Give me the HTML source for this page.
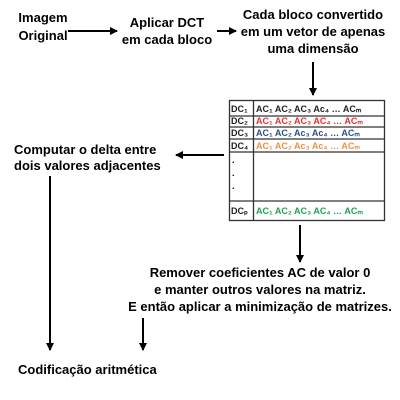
<!DOCTYPE html>
<html><head><meta charset="utf-8"><style>
html,body{margin:0;padding:0;background:#fff;}
svg{display:block;}
text{font-family:"Liberation Sans",Arial,sans-serif;font-weight:bold;font-size:13px;fill:#000;}
.t{font-size:9px;font-weight:bold;}
</style></head><body>
<svg width="400" height="400" xmlns="http://www.w3.org/2000/svg">
<defs><marker id="a" markerWidth="8" markerHeight="8" refX="7" refY="4" orient="auto" markerUnits="userSpaceOnUse"><path d="M0,0 L8,4 L0,8 z" fill="#000"/></marker></defs>
<text x="43" y="22" text-anchor="middle">Imagem</text>
<text x="43" y="40" text-anchor="middle">Original</text>
<text x="167" y="27" text-anchor="middle">Aplicar DCT</text>
<text x="167" y="44" text-anchor="middle">em cada bloco</text>
<text x="313" y="19" text-anchor="middle">Cada bloco convertido</text>
<text x="313" y="36" text-anchor="middle">em um vetor de apenas</text>
<text x="313" y="53" text-anchor="middle">uma dimensão</text>
<g stroke="#000" stroke-width="2" fill="none">
<line x1="68" y1="31" x2="117" y2="31" marker-end="url(#a)"/>
<line x1="217" y1="31" x2="236" y2="31" marker-end="url(#a)"/>
<line x1="313" y1="62" x2="313" y2="95" marker-end="url(#a)"/>
<line x1="224" y1="155" x2="176" y2="155" marker-end="url(#a)"/>
<line x1="50" y1="176" x2="50" y2="350" marker-end="url(#a)"/>
<line x1="300" y1="225" x2="300" y2="262" marker-end="url(#a)"/>
<line x1="143" y1="318" x2="143" y2="350" marker-end="url(#a)"/>
</g>
<g stroke="#333" stroke-width="1.3" fill="none">
<rect x="229.5" y="100.5" width="155" height="120"/>
<line x1="253.5" y1="100" x2="253.5" y2="221"/>
<line x1="229" y1="116" x2="385" y2="116"/>
<line x1="229" y1="127" x2="385" y2="127"/>
<line x1="229" y1="139" x2="385" y2="139"/>
<line x1="229" y1="152" x2="385" y2="152"/>
<line x1="229" y1="201" x2="385" y2="201"/>
</g>
<text class="t" x="231" y="112" style="fill:#222">DC₁</text>
<text class="t" x="256" y="112" style="fill:#222">AC₁ AC₂ AC₃  Ac₄ …   ACₘ</text>
<text class="t" x="231" y="124" style="fill:#222">DC₂</text>
<text class="t" x="256" y="124" style="fill:#e53030">AC₁ AC₂ AC₃ AC₄ …   ACₘ</text>
<text class="t" x="231" y="136" style="fill:#222">DC₃</text>
<text class="t" x="256" y="136" style="fill:#2a4f8a">AC₁ AC₂ Ac₃ Ac₄ …   ACₘ</text>
<text class="t" x="231" y="149" style="fill:#222">DC₄</text>
<text class="t" x="256" y="149" style="fill:#f09040">AC₁ AC₂ Ac₃ Ac₄ …   ACₘ</text>
<text class="t" x="232" y="163">.</text>
<text class="t" x="232" y="176">.</text>
<text class="t" x="232" y="189">.</text>
<text class="t" x="231" y="214" style="fill:#222">DCₚ</text>
<text class="t" x="256" y="214" style="fill:#20a050">AC₁ AC₂ AC₃ AC₄ …   ACₘ</text>
<text x="14" y="154">Computar o delta entre</text>
<text x="14" y="170">dois valores adjacentes</text>
<text x="260" y="277" text-anchor="middle">Remover coeficientes AC de valor 0</text>
<text x="260" y="294" text-anchor="middle">e manter outros valores na matriz.</text>
<text x="260" y="311" text-anchor="middle">E então aplicar a minimização de matrizes.</text>
<text x="18" y="374">Codificação aritmética</text>
</svg>
</body></html>
